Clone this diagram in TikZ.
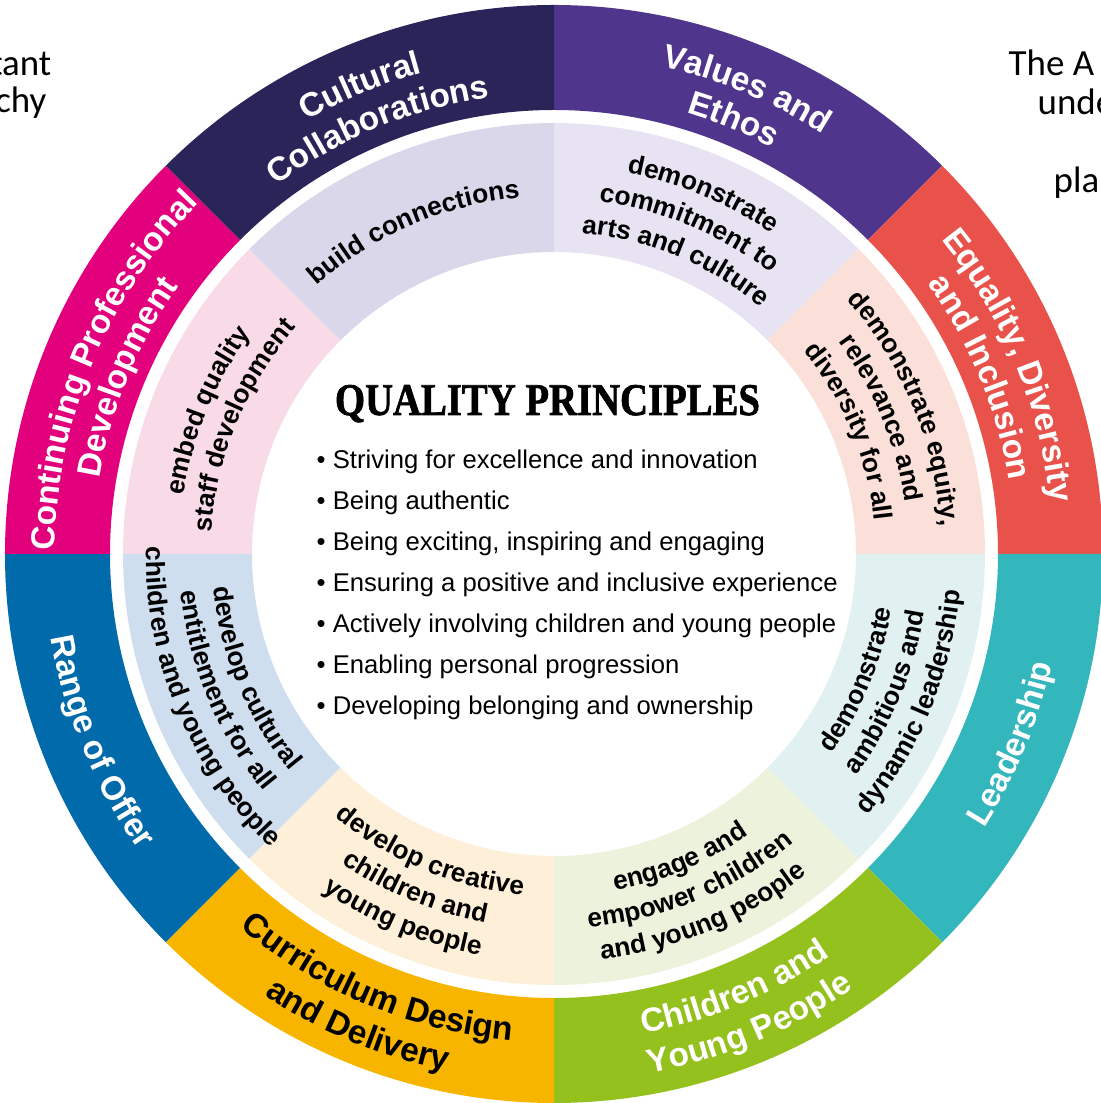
\documentclass[tikz,border=0pt]{standalone}
\usepackage{fontspec}
\usepackage{graphicx}
\usetikzlibrary{decorations.text}
\newfontfamily\labelsans{Liberation Sans}
\newfontfamily\sidefont{Carlito}
\newfontfamily\titleserif{Liberation Serif}[FakeBold=1.6]
\definecolor{valuespurple}{HTML}{4F358B}
\definecolor{equalityred}{HTML}{E9524A}
\definecolor{leadteal}{HTML}{33B6BC}
\definecolor{cypgreen}{HTML}{95C11F}
\definecolor{curryellow}{HTML}{F8B500}
\definecolor{rangeblue}{HTML}{006AAB}
\definecolor{cpdpink}{HTML}{E3007D}
\definecolor{cultnavy}{HTML}{2B2459}
\definecolor{valueslight}{HTML}{E7E3F2}
\definecolor{equalitylight}{HTML}{FBE0D9}
\definecolor{leadlight}{HTML}{E1F0F0}
\definecolor{cyplight}{HTML}{EDF2DC}
\definecolor{currlight}{HTML}{FEF0D8}
\definecolor{rangelight}{HTML}{CFDEEF}
\definecolor{cpdlight}{HTML}{F9DBE8}
\definecolor{cultlight}{HTML}{DAD7EA}
\def\outerfont{\labelsans\bfseries\fontsize{9.5}{11}\selectfont}
\def\innerfont{\labelsans\bfseries\fontsize{7.5}{9}\selectfont}
\def\ringsector[#1](#2:#3:#4:#5){\fill[#1] (#2:#4) arc (#2:#3:#4) -- (#3:#5) arc (#3:#2:#5) -- cycle;}
\def\cwtext[#1](#2:#3)#4{\path[decorate,decoration={text along path,text align=center,text color=#1,text={#4}}] (#2+40:#3) arc (#2+40:#2-40:#3);}
\def\ccwtext[#1](#2:#3)#4{\path[decorate,decoration={text along path,text align=center,text color=#1,text={#4}}] (#2-40:#3) arc (#2-40:#2+40:#3);}

\begin{document}
\begin{tikzpicture}
	%%%%% START %%%%%
	\useasboundingbox (-5.54, -5.49) rectangle (5.47, 5.54);
	
	% outer ring
	\ringsector[valuespurple](90:45:4.44:5.49)
	\ringsector[equalityred](45:0:4.44:5.49)
	\ringsector[leadteal](0:-45:4.44:5.49)
	\ringsector[cypgreen](-45:-90:4.44:5.49)
	\ringsector[curryellow](-90:-135:4.44:5.49)
	\ringsector[rangeblue](-135:-180:4.44:5.49)
	\ringsector[cpdpink](180:135:4.44:5.49)
	\ringsector[cultnavy](135:90:4.44:5.49)
	
	% inner ring
	\ringsector[valueslight](90:45:3.02:4.31)
	\ringsector[equalitylight](45:0:3.02:4.31)
	\ringsector[leadlight](0:-45:3.02:4.31)
	\ringsector[cyplight](-45:-90:3.02:4.31)
	\ringsector[currlight](-90:-135:3.02:4.31)
	\ringsector[rangelight](-135:-180:3.02:4.31)
	\ringsector[cpdlight](180:135:3.02:4.31)
	\ringsector[cultlight](135:90:3.02:4.31)
	
	% outer labels
	\cwtext[white](67.5:4.99){|\outerfont|Values and}
	\cwtext[white](67.5:4.61){|\outerfont|Ethos}
	\cwtext[white](22.5:4.99){|\outerfont|Equality, Diversity}
	\cwtext[white](22.5:4.61){|\outerfont|and Inclusion}
	\ccwtext[white](-22.5:5.10){|\outerfont|Leadership}
	\ccwtext[white](-67.5:4.88){|\outerfont|Children and}
	\ccwtext[white](-67.5:5.28){|\outerfont|Young People}
	\ccwtext[black](-112.5:4.88){|\outerfont|Curriculum Design}
	\ccwtext[black](-112.5:5.28){|\outerfont|and Delivery}
	\ccwtext[white](-157.5:5.10){|\outerfont|Range of Offer}
	\cwtext[white](157.5:4.99){|\outerfont|Continuing Professional}
	\cwtext[white](157.5:4.61){|\outerfont|Development}
	\cwtext[white](112.5:4.99){|\outerfont|Cultural}
	\cwtext[white](112.5:4.61){|\outerfont|Collaborations}
	
	% inner labels
	\cwtext[black](113.5:3.58){|\innerfont|build connections}
	\cwtext[black](67.5:3.88){|\innerfont|demonstrate}
	\cwtext[black](67.5:3.55){|\innerfont|commitment to}
	\cwtext[black](67.5:3.22){|\innerfont|arts and culture}
	\cwtext[black](22.5:3.88){|\innerfont|demonstrate equity,}
	\cwtext[black](22.5:3.55){|\innerfont|relevance and}
	\cwtext[black](22.5:3.22){|\innerfont|diversity for all}
	\ccwtext[black](-22.5:3.42){|\innerfont|demonstrate}
	\ccwtext[black](-22.5:3.75){|\innerfont|ambitious and}
	\ccwtext[black](-22.5:4.08){|\innerfont|dynamic leadership}
	\ccwtext[black](-67.5:3.42){|\innerfont|engage and}
	\ccwtext[black](-67.5:3.75){|\innerfont|empower children}
	\ccwtext[black](-67.5:4.08){|\innerfont|and young people}
	\ccwtext[black](-112.5:3.42){|\innerfont|develop creative}
	\ccwtext[black](-112.5:3.75){|\innerfont|children and}
	\ccwtext[black](-112.5:4.08){|\innerfont|young people}
	\ccwtext[black](-157.5:3.42){|\innerfont|develop cultural}
	\ccwtext[black](-157.5:3.75){|\innerfont|entitlement for all}
	\ccwtext[black](-157.5:4.08){|\innerfont|children and young people}
	\cwtext[black](157.5:3.75){|\innerfont|embed quality}
	\cwtext[black](157.5:3.43){|\innerfont|staff development}
	
	% centre
	\node[anchor=base, inner sep=0] (title) at (-0.065, 1.39) {\resizebox{4.25cm}{3.0mm}{\titleserif\bfseries QUALITY PRINCIPLES}};
	\node[anchor=base west, inner sep=0, font=\labelsans\fontsize{7.3}{9}\selectfont] (p1) at (-2.38, 0.85) {• Striving for excellence and innovation};
	\node[anchor=base west, inner sep=0, font=\labelsans\fontsize{7.3}{9}\selectfont] (p2) at (-2.38, 0.44) {• Being authentic};
	\node[anchor=base west, inner sep=0, font=\labelsans\fontsize{7.3}{9}\selectfont] (p3) at (-2.38, 0.03) {• Being exciting, inspiring and engaging};
	\node[anchor=base west, inner sep=0, font=\labelsans\fontsize{7.3}{9}\selectfont] (p4) at (-2.38, -0.38) {• Ensuring a positive and inclusive experience};
	\node[anchor=base west, inner sep=0, font=\labelsans\fontsize{7.3}{9}\selectfont] (p5) at (-2.38, -0.79) {• Actively involving children and young people};
	\node[anchor=base west, inner sep=0, font=\labelsans\fontsize{7.3}{9}\selectfont] (p6) at (-2.38, -1.20) {• Enabling personal progression};
	\node[anchor=base west, inner sep=0, font=\labelsans\fontsize{7.3}{9}\selectfont] (p7) at (-2.38, -1.61) {• Developing belonging and ownership};
	
	% cut-off text at the sides
	\node[anchor=base east, inner sep=0, font=\sidefont\fontsize{10.5}{12}\selectfont] (lefta) at (-5.02, 4.78) {tant};
	\node[anchor=base east, inner sep=0, font=\sidefont\fontsize{10.5}{12}\selectfont] (leftb) at (-5.07, 4.41) {chy};
	\node[anchor=base west, inner sep=0, font=\sidefont\fontsize{10.5}{12}\selectfont] (righta) at (4.54, 4.78) {The A};
	\node[anchor=base west, inner sep=0, font=\sidefont\fontsize{10.5}{12}\selectfont] (rightb) at (4.83, 4.39) {unde};
	\node[anchor=base west, inner sep=0, font=\sidefont\fontsize{10.5}{12}\selectfont] (rightc) at (4.99, 3.61) {pla};
	
	%%%%% END %%%%%
\end{tikzpicture}
\end{document}
